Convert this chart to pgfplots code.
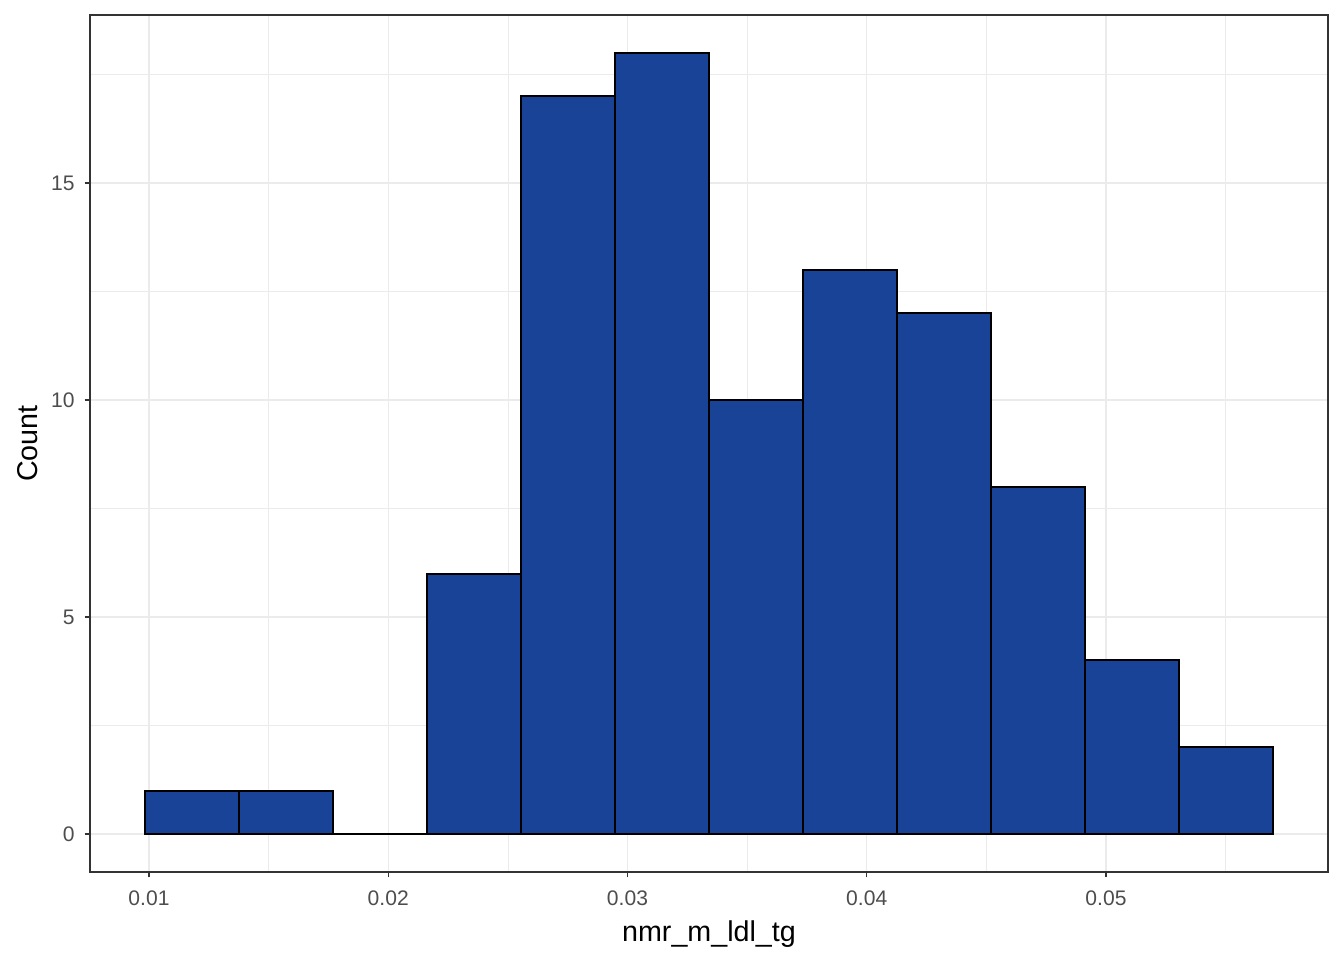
\documentclass[border=0pt]{standalone}
\usepackage{fontspec}
\setmainfont{Liberation Sans}
\usepackage{pgfplots}
\pgfplotsset{compat=1.18}
\usetikzlibrary{calc}
\definecolor{barfill}{HTML}{184397}
\definecolor{gridc}{HTML}{EBEBEB}
\definecolor{gray20}{HTML}{333333}
\definecolor{gray30}{HTML}{4D4D4D}
\begin{document}
\begin{tikzpicture}
\path (0,0) rectangle (1008pt,720pt);
\begin{axis}[
  at={(67.5pt,66pt)}, anchor=south west,
  scale only axis, width=928.5pt, height=642.75pt,
  xmin=0.007534, xmax=0.05928, ymin=-0.8756, ymax=18.87,
  scaled x ticks=false, scaled y ticks=false,
  axis line style={gray20, line width=1pt},
  xtick={0.01,0.02,0.03,0.04,0.05},
  xticklabels={0.01,0.02,0.03,0.04,0.05},
  ytick={0,5,10,15},
  yticklabels={0,5,10,15},
  minor xtick={0.015,0.025,0.035,0.045,0.055},
  minor ytick={2.5,7.5,12.5,17.5},
  grid=both,
  major grid style={gridc, line width=1pt},
  minor grid style={gridc, line width=0.5pt},
  tick align=outside,
  major tick length=4.1pt,
  minor tick length=0pt,
  tick style={gray20, line width=1pt},
  xtick pos=bottom, ytick pos=left,
  ticklabel style={font=\fontsize{15.8}{18}\selectfont, text=gray30},
  xticklabel style={yshift=-6.5pt},
  yticklabel style={xshift=-4pt},
  xlabel={nmr\_m\_ldl\_tg},
  ylabel={Count},
  label style={font=\fontsize{21.5}{25}\selectfont, text=black},
  xlabel style={at={($(axis description cs:0.5,0)+(0,-46.5pt)$)}, anchor=center},
  ylabel style={at={($(axis description cs:0,0.5)+(-47pt,0)$)}, anchor=center},
]
\addplot[ybar interval, fill=barfill, draw=black, line width=1.4pt] coordinates {
(0.009833,1) (0.013762,1) (0.017691,0) (0.021620,6) (0.025549,17) (0.029478,18)
(0.033407,10) (0.037336,13) (0.041265,12) (0.045194,8) (0.049123,4) (0.053052,2)
(0.056981,2)};
\end{axis}
\end{tikzpicture}
\end{document}
